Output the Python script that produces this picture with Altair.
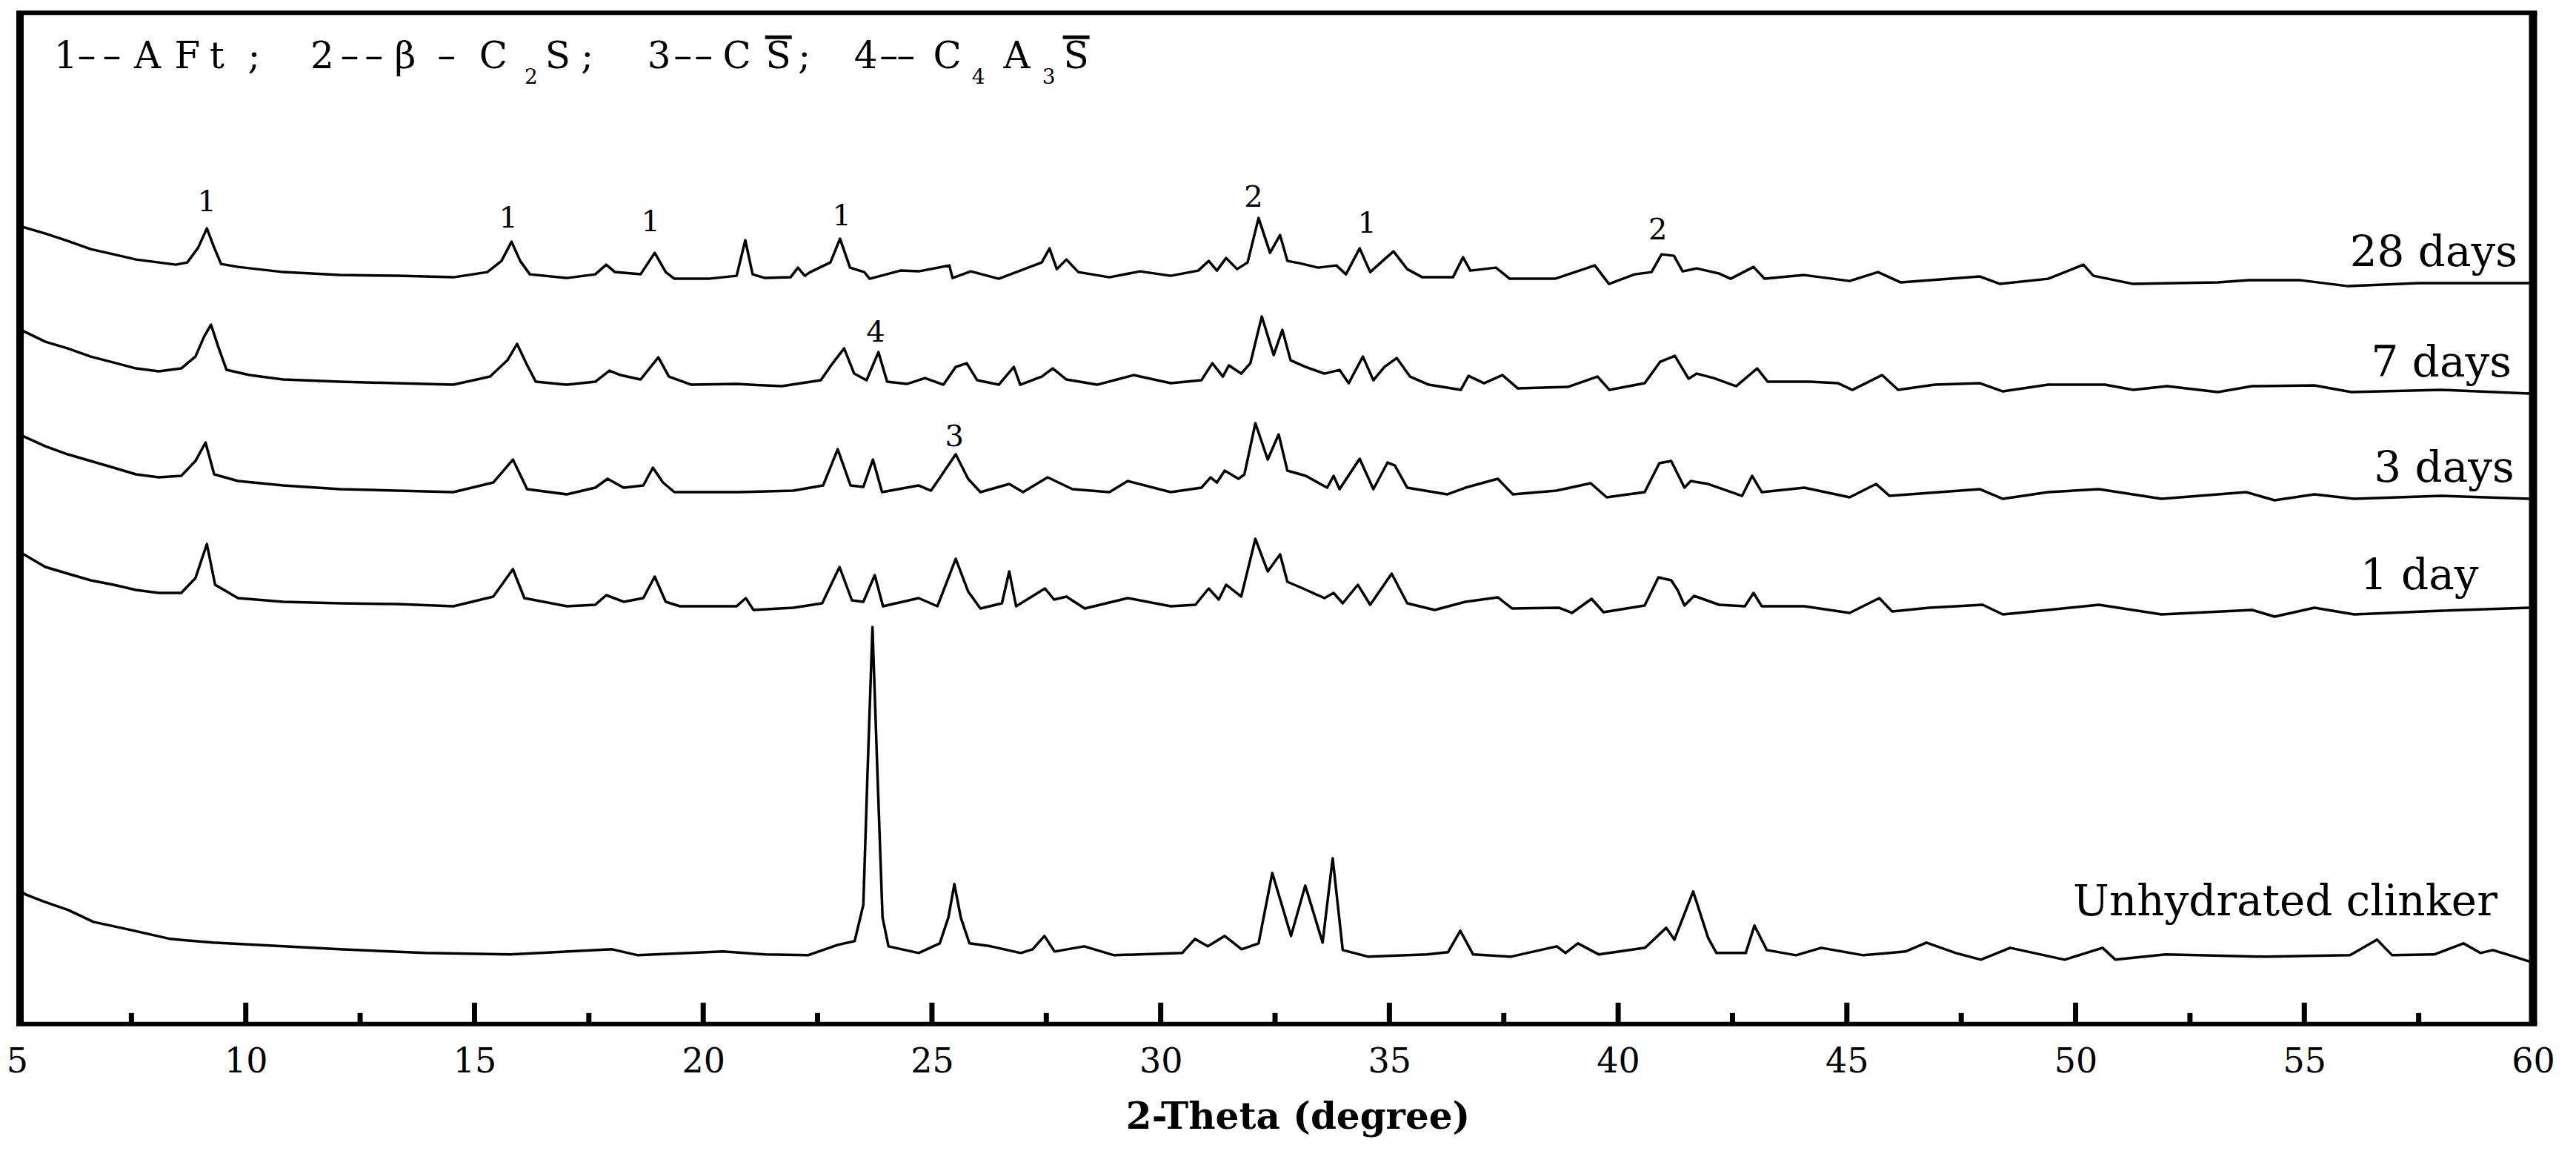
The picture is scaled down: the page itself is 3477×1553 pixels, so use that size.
import altair as alt
import pandas as pd

# ---------------- data: (2-theta in degree, intensity in a.u.) ----------------
xrd_28d = [
    (5.00, 1082), (5.12, 1076), (5.62, 1067), (6.11, 1057), (6.61, 1046), (7.11, 1039),
    (7.60, 1032), (8.10, 1028), (8.47, 1025), (8.72, 1028), (8.96, 1048), (9.15, 1074),
    (9.31, 1048), (9.46, 1026), (9.83, 1022), (10.82, 1015), (12.06, 1011), (13.30, 1010),
    (14.54, 1008), (15.28, 1015), (15.59, 1030), (15.81, 1056), (16.00, 1030), (16.21, 1012),
    (17.02, 1007), (17.64, 1012), (17.88, 1025), (18.07, 1015), (18.63, 1012), (18.94, 1041),
    (19.18, 1015), (19.37, 1006), (20.11, 1006), (20.73, 1010), (20.92, 1058), (21.08, 1012),
    (21.35, 1007), (21.91, 1008), (22.07, 1021), (22.22, 1010), (22.34, 1015), (22.78, 1028),
    (22.99, 1060), (23.21, 1021), (23.52, 1015), (23.64, 1006), (24.31, 1017), (24.71, 1016),
    (25.38, 1024), (25.45, 1007), (25.85, 1016), (26.46, 1006), (26.93, 1017), (27.40, 1028),
    (27.57, 1047), (27.73, 1019), (27.94, 1032), (28.20, 1015), (28.88, 1008), (29.55, 1016),
    (30.22, 1010), (30.82, 1017), (31.05, 1030), (31.23, 1017), (31.43, 1034), (31.67, 1019),
    (31.90, 1028), (32.14, 1088), (32.39, 1041), (32.61, 1065), (32.77, 1030), (33.04, 1027),
    (33.44, 1021), (33.84, 1024), (34.05, 1012), (34.35, 1047), (34.58, 1015), (34.85, 1030),
    (35.09, 1043), (35.39, 1019), (35.72, 1008), (36.39, 1008), (36.61, 1035), (36.77, 1017),
    (37.33, 1021), (37.63, 1006), (38.62, 1006), (39.49, 1024), (39.80, 999), (40.36, 1012),
    (40.73, 1015), (40.95, 1039), (41.22, 1037), (41.41, 1016), (41.72, 1020), (42.21, 1013),
    (42.46, 1006), (42.96, 1022), (43.20, 1006), (44.07, 1011), (45.06, 1003), (45.68, 1015),
    (46.18, 1001), (47.91, 1009), (48.35, 999), (49.40, 1006), (50.17, 1025), (50.39, 1010),
    (51.26, 999), (53.11, 1001), (53.78, 1004), (54.92, 1004), (55.96, 996), (57.50, 1000),
    (59.92, 1000),
]

xrd_7d = [
    (5.00, 942), (5.12, 936), (5.62, 921), (6.11, 912), (6.61, 901), (7.11, 893), (7.60, 885),
    (8.10, 881), (8.59, 885), (8.90, 901), (9.09, 928), (9.24, 944), (9.40, 914), (9.58, 883),
    (10.08, 876), (10.82, 870), (12.06, 867), (13.30, 865), (14.54, 863), (15.34, 874),
    (15.72, 896), (15.93, 918), (16.13, 892), (16.34, 867), (17.02, 863), (17.64, 867),
    (17.95, 882), (18.19, 876), (18.63, 870), (18.85, 887), (19.02, 900), (19.25, 874),
    (19.74, 863), (20.73, 864), (21.72, 861), (22.57, 869), (22.83, 892), (23.08, 912),
    (23.30, 878), (23.57, 869), (23.83, 907), (24.02, 867), (24.45, 864), (24.85, 872),
    (25.25, 863), (25.52, 887), (25.76, 892), (25.99, 869), (26.46, 863), (26.79, 887),
    (26.93, 863), (27.40, 874), (27.64, 885), (27.94, 870), (28.61, 863), (29.41, 876),
    (30.22, 865), (30.89, 869), (31.13, 892), (31.36, 874), (31.49, 889), (31.76, 878),
    (31.96, 892), (32.21, 955), (32.47, 903), (32.66, 937), (32.84, 896), (33.17, 887),
    (33.58, 878), (33.91, 883), (34.11, 865), (34.42, 901), (34.65, 869), (34.89, 887),
    (35.16, 899), (35.45, 874), (35.86, 863), (36.56, 856), (36.73, 875), (37.07, 865),
    (37.47, 876), (37.81, 858), (38.90, 860), (39.55, 874), (39.81, 856), (40.58, 865),
    (40.92, 894), (41.24, 902), (41.54, 871), (41.72, 878), (42.09, 872), (42.58, 861),
    (43.04, 885), (43.27, 867), (44.20, 867), (44.81, 865), (45.12, 856), (45.77, 876),
    (46.12, 856), (46.92, 863), (47.91, 865), (48.41, 854), (49.40, 863), (50.64, 863),
    (51.26, 856), (52.00, 861), (53.11, 853), (53.86, 861), (55.22, 862), (56.03, 853),
    (58.00, 856), (59.92, 851),
]

xrd_3d = [
    (5.00, 800), (5.12, 794), (5.62, 780), (6.11, 769), (6.61, 760), (7.11, 751), (7.60, 742),
    (8.10, 738), (8.59, 740), (8.90, 760), (9.12, 785), (9.31, 742), (9.83, 733), (10.82, 727),
    (12.06, 722), (13.30, 720), (14.54, 718), (15.41, 731), (15.84, 762), (16.15, 722),
    (17.02, 715), (17.64, 724), (17.91, 736), (18.26, 724), (18.69, 727), (18.90, 751),
    (19.12, 731), (19.37, 718), (20.73, 718), (21.97, 720), (22.62, 727), (22.94, 776),
    (23.22, 727), (23.50, 725), (23.71, 762), (23.91, 718), (24.71, 727), (24.98, 720),
    (25.52, 769), (25.79, 736), (26.06, 718), (26.69, 729), (26.99, 718), (27.53, 738),
    (28.07, 722), (28.88, 718), (29.28, 733), (30.22, 718), (30.89, 724), (31.09, 738),
    (31.23, 731), (31.40, 747), (31.70, 736), (31.83, 742), (32.07, 811), (32.34, 762),
    (32.58, 796), (32.77, 747), (33.17, 740), (33.64, 724), (33.78, 740), (33.91, 722),
    (34.35, 763), (34.65, 722), (34.96, 758), (35.12, 754), (35.39, 724), (36.26, 715),
    (36.66, 724), (37.37, 736), (37.70, 715), (38.65, 720), (39.40, 730), (39.75, 711),
    (40.58, 718), (40.90, 757), (41.16, 760), (41.45, 724), (41.59, 733), (41.97, 729),
    (42.71, 713), (42.93, 740), (43.14, 718), (44.07, 724), (45.06, 711), (45.64, 729),
    (45.93, 713), (47.91, 722), (48.41, 709), (49.40, 718), (50.51, 722), (51.88, 709),
    (53.73, 718), (54.35, 707), (55.22, 715), (56.09, 709), (58.00, 713), (59.92, 709),
]

xrd_1d = [
    (5.00, 640), (5.12, 635), (5.62, 617), (6.11, 608), (6.61, 599), (7.11, 593), (7.60, 586),
    (8.10, 582), (8.59, 582), (8.90, 602), (9.15, 648), (9.33, 593), (9.83, 575), (10.82, 570),
    (12.06, 568), (13.30, 567), (14.54, 564), (15.41, 577), (15.84, 614), (16.09, 575),
    (17.02, 564), (17.64, 566), (17.88, 579), (18.26, 570), (18.69, 575), (18.94, 604),
    (19.18, 570), (19.49, 564), (20.73, 564), (20.93, 575), (21.10, 559), (21.97, 562),
    (22.60, 568), (22.98, 617), (23.25, 572), (23.50, 570), (23.75, 606), (23.93, 564),
    (24.71, 575), (25.12, 564), (25.52, 628), (25.79, 584), (26.06, 561), (26.53, 568),
    (26.69, 611), (26.84, 564), (27.47, 588), (27.67, 573), (27.94, 577), (28.34, 561),
    (29.28, 575), (30.22, 564), (30.76, 566), (31.05, 588), (31.27, 573), (31.43, 593),
    (31.76, 577), (32.07, 655), (32.34, 611), (32.61, 634), (32.77, 597), (33.11, 588),
    (33.58, 575), (33.78, 582), (33.98, 568), (34.31, 593), (34.58, 566), (35.05, 608),
    (35.39, 568), (35.99, 559), (36.66, 570), (37.37, 576), (37.68, 561), (38.70, 562),
    (38.99, 555), (39.42, 574), (39.68, 556), (40.58, 565), (40.88, 603), (41.16, 599),
    (41.30, 586), (41.45, 565), (41.66, 578), (42.21, 566), (42.77, 564), (42.96, 582),
    (43.14, 564), (44.07, 564), (45.06, 555), (45.71, 575), (45.99, 557), (46.80, 562),
    (47.97, 566), (48.41, 553), (49.40, 559), (50.51, 566), (51.88, 553), (53.86, 559),
    (54.35, 550), (55.22, 562), (56.09, 553), (58.00, 558), (59.92, 562),
]

xrd_clinker = [
    (5.00, 182), (5.19, 175), (5.56, 166), (6.12, 154), (6.67, 138), (7.42, 128), (8.35, 115),
    (9.28, 110), (10.21, 107), (12.06, 101), (13.92, 96), (15.78, 94), (18.01, 101),
    (18.57, 93), (20.43, 98), (21.36, 94), (22.29, 93), (22.94, 107), (23.31, 112),
    (23.50, 161), (23.59, 336), (23.70, 536), (23.81, 336), (23.92, 144), (24.05, 105),
    (24.71, 96), (25.17, 109), (25.36, 144), (25.49, 189), (25.63, 144), (25.82, 109),
    (26.29, 105), (26.94, 96), (27.20, 101), (27.46, 119), (27.68, 98), (28.33, 105),
    (28.98, 93), (30.47, 96), (30.75, 115), (31.03, 105), (31.40, 119), (31.77, 101),
    (32.14, 109), (32.44, 204), (32.85, 119), (33.16, 187), (33.54, 110), (33.76, 224),
    (33.98, 100), (34.54, 91), (35.82, 94), (36.28, 97), (36.55, 126), (36.83, 94),
    (37.65, 91), (38.66, 105), (38.85, 96), (39.12, 109), (39.58, 94), (40.59, 103),
    (41.05, 130), (41.23, 114), (41.64, 179), (41.97, 116), (42.15, 96), (42.79, 96),
    (42.98, 133), (43.25, 100), (43.89, 93), (44.44, 103), (45.36, 93), (46.28, 98),
    (46.74, 110), (47.38, 96), (47.93, 87), (48.57, 103), (49.76, 87), (50.59, 103),
    (50.87, 87), (51.97, 94), (54.17, 91), (56.00, 93), (56.59, 114), (56.92, 93),
    (57.84, 94), (58.48, 109), (58.85, 96), (59.12, 100), (59.49, 93), (59.95, 84),
]

sample_names = ["28 days", "7 days", "3 days", "1 day", "Unhydrated clinker"]
sample_data = [xrd_28d, xrd_7d, xrd_3d, xrd_1d, xrd_clinker]

x_tick_labels = [5, 10, 15, 20, 25, 30, 35, 40, 45, 50, 55, 60]
major_ticks = [10, 15, 20, 25, 30, 35, 40, 45, 50, 55]
minor_ticks = [7.5, 12.5, 17.5, 22.5, 27.5, 32.5, 37.5, 42.5, 47.5, 52.5, 57.5]

# peak-marker labels (phase number, 2-theta, intensity of label baseline)
peak_label_text = ["1", "1", "1", "1", "2", "1", "2", "4", "3"]
peak_label_theta = [9.15, 15.74, 18.85, 23.03, 32.03, 34.51, 40.87, 23.77, 25.49]
peak_label_level = [1097, 1075, 1070, 1078, 1103, 1068, 1059, 921, 780]

# sample-name labels at the right end of each pattern
curve_label_theta = [59.66, 59.53, 59.59, 58.81, 59.22]
curve_label_level = [1023, 874, 732, 587, 147]

# ---------------- build tables ----------------
rows = []
for name, pts in zip(sample_names, sample_data):
    for t, v in pts:
        rows.append({"sample": name, "theta": t, "intensity": v})
df = pd.DataFrame(rows)

W, H = 3397, 1365
FONT = "DejaVu Serif"
xs = alt.Scale(domain=[5, 60], nice=False, zero=False)
ys = alt.Scale(domain=[0, 1365], nice=False, zero=False)
one = pd.DataFrame({"k": [0]})

x_axis = alt.Axis(
    values=x_tick_labels, format="d", title="2-Theta (degree)",
    domain=False, ticks=False, tickSize=0, grid=False,
    labelFont=FONT, labelFontSize=46, labelColor="black",
    labelPadding=65, labelBaseline="alphabetic",
    labelFlush=False, labelOverlap=False,
    titleFont=FONT, titleFontSize=50, titleFontWeight="bold",
    titleColor="black", titleX=1729, titleY=141,
    titleBaseline="alphabetic", titleAlign="center",
)
X = alt.X("theta:Q", scale=xs, axis=x_axis, title="2-Theta (degree)")
Y = alt.Y("intensity:Q", scale=ys, axis=None)

lines = alt.Chart(df).mark_line(color="black", strokeWidth=3.5, strokeJoin="round").encode(
    x=X, y=Y, detail="sample:N", order="theta:Q",
)

major_df = pd.DataFrame({"theta": major_ticks})
minor_df = pd.DataFrame({"theta": minor_ticks})
major = alt.Chart(major_df).mark_rule(color="black", strokeWidth=7).encode(
    x=X, y=alt.value(H), y2=alt.value(H - 29))
minor = alt.Chart(minor_df).mark_rule(color="black", strokeWidth=7).encode(
    x=X, y=alt.value(H), y2=alt.value(H - 15))

frame = [
    alt.Chart(one).mark_rule(color="black", strokeWidth=10).encode(
        x=alt.value(4), y=alt.value(0), y2=alt.value(H)),
    alt.Chart(one).mark_rule(color="black", strokeWidth=11).encode(
        x=alt.value(W), y=alt.value(0), y2=alt.value(H)),
    alt.Chart(one).mark_rule(color="black", strokeWidth=6).encode(
        y=alt.value(0), x=alt.value(-1), x2=alt.value(W + 5.5)),
    alt.Chart(one).mark_rule(color="black", strokeWidth=6).encode(
        y=alt.value(H), x=alt.value(-1), x2=alt.value(W + 5.5)),
]

peak_df = pd.DataFrame({"label": peak_label_text, "theta": peak_label_theta,
                        "intensity": peak_label_level})
peaks = alt.Chart(peak_df).mark_text(
    font=FONT, fontSize=40, color="black", align="center", baseline="alphabetic"
).encode(x=X, y=Y, text="label:N")

curve_df = pd.DataFrame({"label": sample_names, "theta": curve_label_theta,
                         "intensity": curve_label_level})
curve_labels = alt.Chart(curve_df).mark_text(
    font=FONT, fontSize=58, color="black", align="right", baseline="alphabetic"
).encode(x=X, y=Y, text="label:N")

# phase legend at the top-left: "1--AFt ;  2--β -C2S;  3--CS̄;  4--C4A3S̄"
# laid out glyph by glyph (subscripts smaller and lower, overbars as rules)
DASH = "\u2013"
legend_glyphs = [
    ("1", 66, 0), (DASH, 94, 0), (DASH, 128, 0), ("A", 176, 0), ("F", 230, 0), ("t", 270, 0),
    (";", 320, 0),
    ("2", 412, 0), (DASH, 449, 0), (DASH, 482, 0), ("\u03b2", 524, 0), (DASH, 580, 0),
    ("C", 643, 0), ("2", 694, 1), ("S", 730, 0), (";", 770, 0),
    ("3", 867, 0), (DASH, 899, 0), (DASH, 927, 0), ("C", 972, 0), ("S", 1028, 0),
    (";", 1063, 0),
    ("4", 1146, 0), (DASH, 1177, 0), (DASH, 1200, 0), ("C", 1256, 0), ("4", 1298, 1),
    ("A", 1350, 0), ("3", 1393, 1), ("S", 1430, 0),
]
legend_layers = []
for s, px, sub in legend_glyphs:
    legend_layers.append(
        alt.Chart(one).mark_text(
            text=s, font=FONT, fontSize=28 if sub else 50, color="black",
            align="center", baseline="alphabetic"
        ).encode(x=alt.value(px), y=alt.value(96 if sub else 75))
    )
for x1, x2 in [(1010, 1046), (1412, 1448)]:
    legend_layers.append(
        alt.Chart(one).mark_rule(color="black", strokeWidth=5).encode(
            x=alt.value(x1), x2=alt.value(x2), y=alt.value(33))
    )

chart = alt.layer(
    lines, major, minor, *frame, peaks, curve_labels, *legend_layers
).properties(
    width=W, height=H,
    autosize=alt.AutoSizeParams(type="none"),
    padding={"left": 15, "top": 9, "right": 50, "bottom": 160},
    background="white",
).configure_view(stroke=None)

chart.save("out.html", embed_options={"renderer": "svg", "actions": False})
